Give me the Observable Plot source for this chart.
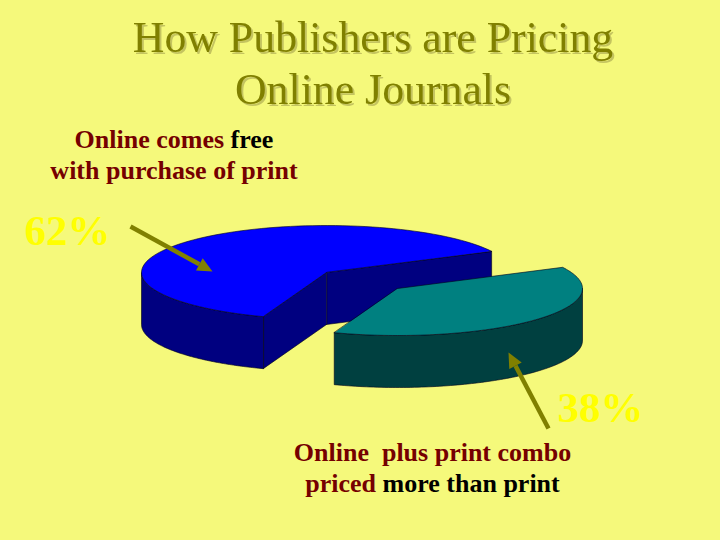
<!DOCTYPE html>
<html><head><meta charset="utf-8">
<script src="https://cdn.jsdelivr.net/npm/d3@7"></script>
<script src="https://cdn.jsdelivr.net/npm/@observablehq/plot@0.6"></script>
<style>
html,body{margin:0;padding:0;background:#f5f97b;overflow:hidden}
svg text{font-family:"Liberation Serif",serif}
.shadowed text{filter:drop-shadow(2px 2px 0 #c4c45f)}
</style></head><body>
<script>
const categories = ["Online comes free with purchase of print", "Online plus print combo priced more than print"];
const shares = [62, 38];
const shareLabels = ["62%", "38%"];
const topColors = ["#0000ff", "#008080"];
const sideColors = ["#000080", "#004040"];
const titleLines = ["How Publishers are Pricing", "Online Journals"];
const labelLines = [
  ["Online comes ", "free", "with purchase of print"],
  ["Online  plus print combo", "priced ", "more than print"]
];

const W = 720, H = 540;
const RX = 185, RY = 47, DEPTH = 52;
const centers = [[326, 272], [397, 288]];
const startDeg = 200;           // clockwise from the top of the pie
const rad = Math.PI / 180;

// slice angles come from the shares
const total = d3.sum(shares);
let acc = startDeg;
const slices = shares.map((v, i) => {
  const a0 = acc, a1 = acc + v / total * 360; acc = a1;
  return {i, a0, a1, c: centers[i]};
});
const pt = (s, a, dz = 0) => ({x: s.c[0] + RX * Math.sin(a * rad), y: s.c[1] - RY * Math.cos(a * rad) + dz});
const arc = (s, a0, a1, dz = 0) => d3.range(0, 97).map(k => pt(s, a0 + (a1 - a0) * k / 96, dz));
const hub = (s, dz = 0) => ({x: s.c[0], y: s.c[1] + dz});

function poly(points, fill, id) { return points.map(p => ({...p, fill, id})); }
const faces = [];
slices.forEach((s, i) => {
  const side = sideColors[i], top = topColors[i];
  if (i === 0) {
    // inner walls at both cut edges, then the outer rim from the tip round to the left extreme
    const e = pt(s, s.a1), e2 = pt(s, s.a1, DEPTH);
    faces.push(poly([hub(s), e, e2, hub(s, DEPTH)], side, "w0a"));
    const b = pt(s, s.a0), b2 = pt(s, s.a0, DEPTH);
    faces.push(poly([hub(s), b, b2, hub(s, DEPTH)], side, "w0b"));
    faces.push(poly([...arc(s, s.a0, 270), ...arc(s, 270, s.a0, DEPTH)], side, "r0"));
  } else {
    // visible outer rim: from the right extreme (450 deg) to the slice's end
    faces.push(poly([...arc(s, 450, s.a1), ...arc(s, s.a1, 450, DEPTH)], side, "r1"));
  }
  faces.push(poly([hub(s), ...arc(s, s.a0, s.a1)], top, "t" + i));
});
const shapes = faces.flat();

// arrows
const arrows = [
  {x1: 130, y1: 226, x2: 212, y2: 271},
  {x1: 548, y1: 428, x2: 508, y2: 352}
];
const HEAD = 15, HALF = 7;
const heads = arrows.flatMap((a, i) => {
  const L = Math.hypot(a.x2 - a.x1, a.y2 - a.y1), ux = (a.x2 - a.x1) / L, uy = (a.y2 - a.y1) / L;
  const bx = a.x2 - ux * HEAD, by = a.y2 - uy * HEAD;
  return [{x: a.x2, y: a.y2}, {x: bx - uy * HALF, y: by + ux * HALF}, {x: bx + uy * HALF, y: by - ux * HALF}].map(p => ({...p, id: i}));
});
const shafts = arrows.map(a => {
  const L = Math.hypot(a.x2 - a.x1, a.y2 - a.y1);
  return {x1: a.x1, y1: a.y1, x2: a.x2 - (a.x2 - a.x1) / L * HEAD, y2: a.y2 - (a.y2 - a.y1) / L * HEAD};
});

const titleRows = titleLines.map((t, i) => ({t, x: 372.5, y: [37, 89][i]}));
const percentRows = shareLabels.map((t, i) => ({t, x: [67, 600][i], y: [231, 408][i]}));

const chart = Plot.plot({
  width: W, height: H, margin: 0,
  x: {domain: [0, W], range: [0, W], axis: null},
  y: {domain: [0, H], range: [0, H], axis: null},
  style: {background: "transparent"},
  marks: [
    Plot.line(shapes, {x: "x", y: "y", z: "id", fill: "fill", stroke: "#00001a", strokeWidth: 0.6, curve: "linear-closed"}),
    Plot.link(shafts, {x1: "x1", y1: "y1", x2: "x2", y2: "y2", stroke: "#808000", strokeWidth: 4.5}),
    Plot.line(heads, {x: "x", y: "y", z: "id", fill: "#808000", stroke: "none", curve: "linear-closed"}),
    Plot.text(titleRows, {x: "x", y: "y", text: "t", fontSize: 43.8, fill: "#808000", className: "shadowed", lineAnchor: "middle"}),
    Plot.text(percentRows, {x: "x", y: "y", text: "t", fontSize: 43, fontWeight: "bold", fill: "#ffff00", lineAnchor: "middle"})
  ]
});
document.body.appendChild(chart);

// two-colour label lines stay real text, added as tspans through d3
const svg = d3.select(chart);
function label(x, y, parts) {
  const t = svg.append("text").attr("x", x).attr("y", y).attr("text-anchor", "middle")
    .attr("font-size", 26).attr("font-weight", "bold").attr("xml:space", "preserve");
  parts.forEach(([s, c]) => t.append("tspan").attr("fill", c).text(s));
}
const dark = "#750000", black = "#000000";
label(174, 148, [[labelLines[0][0], dark], [labelLines[0][1], black]]);
label(174, 179, [[labelLines[0][2], dark]]);
label(432.5, 461, [[labelLines[1][0], dark]]);
label(432.5, 492, [[labelLines[1][1], dark], [labelLines[1][2], black]]);
</script>
</body></html>
